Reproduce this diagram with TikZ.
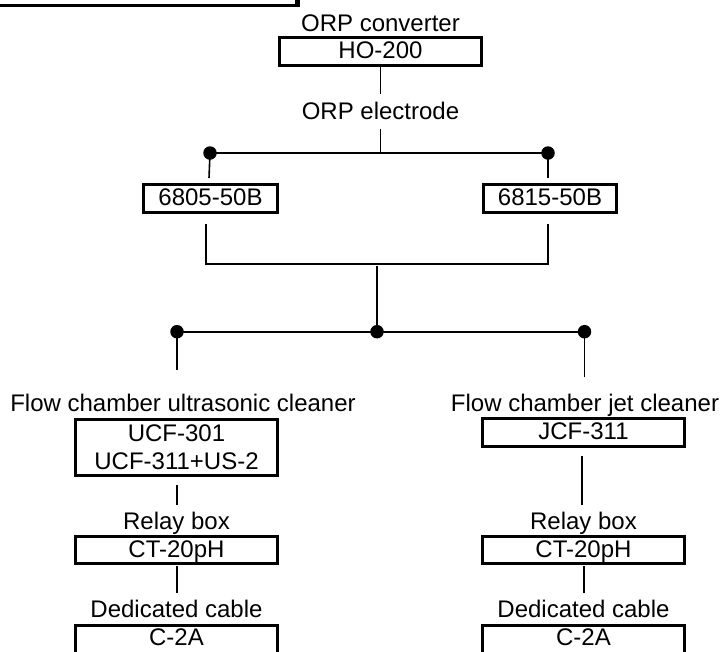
\documentclass[tikz,border=0pt]{standalone}
\usepackage{fontspec}
\setmainfont{Liberation Sans}
\begin{document}
\begin{tikzpicture}[x=1pt,y=-1pt,
  box/.style={draw, line width=3pt, inner sep=0pt, font=\fontsize{24}{28}\selectfont, align=center},
  onebox/.style={box, text height=17pt, text depth=3pt},
  lbl/.style={anchor=base, inner sep=0pt, font=\fontsize{24}{28}\selectfont},
  wire/.style={line width=1.6pt},
  bus/.style={line width=2pt},
  dotnode/.style={circle, fill=black, inner sep=0pt, minimum size=13.5pt}]
\useasboundingbox (0,0) rectangle (723,651);
% partial framed box at top left (shadowed)
\fill[black] (-20,-20) rectangle (300,7.3);
\draw[fill=white, line width=0.8pt] (-20,-20) rectangle (295.5,4);
% top
\node[lbl] (lconv) at (380.5,31) {ORP converter};
\node[onebox, minimum width=202pt, minimum height=28pt] (ho) at (380.5,51.5) {HO-200};
\node[lbl] (lelec) at (380.5,119) {ORP electrode};
\coordinate (e1) at (380.5,94);
\coordinate (e2) at (380.5,129);
\coordinate (j1) at (380.5,153);
\draw[wire] (ho.south) -- (e1);
\draw[wire] (e2) -- (j1);
% electrodes
\node[dotnode] (d1) at (210,153) {};
\node[dotnode] (d2) at (548,153) {};
\draw[bus] (d1.center) -- (d2.center);
\node[onebox, minimum width=134.6pt, minimum height=28.3pt] (b1) at (210.5,198.4) {6805-50B};
\node[onebox, minimum width=133.6pt, minimum height=28.3pt] (b2) at (550,198.4) {6815-50B};
\coordinate (t1) at (209,178);
\coordinate (t2) at (548,178);
\draw[wire] (d1.center) -- (t1);
\draw[wire] (d2.center) -- (t2);
\coordinate (u1) at (206,224);
\coordinate (v1) at (206,264);
\coordinate (u2) at (547.7,224);
\coordinate (v2) at (547.7,264);
\draw[wire] (u1) -- (v1) -- (v2) -- (u2);
\coordinate (w1) at (377,266);
% lower bus
\node[dotnode] (d3) at (177,331.7) {};
\node[dotnode] (d4) at (377,331.7) {};
\node[dotnode] (d5) at (584.5,331.7) {};
\draw[bus] (w1) -- (d4.center);
\draw[bus] (d3.center) -- (d5.center);
\coordinate (s1) at (177,370);
\coordinate (s2) at (584.5,377);
\draw[wire] (d3.center) -- (s1);
\draw[wire] (d5.center) -- (s2);
% left column
\node[lbl] (lucf) at (183,411) {Flow chamber ultrasonic cleaner};
\node[box, minimum width=202pt, minimum height=56pt] (ucf) at (176.5,447.5) {UCF-301\\UCF-311+US-2};
\coordinate (p1) at (177,485);
\coordinate (q1) at (177,505);
\draw[wire] (p1) -- (q1);
\node[lbl] (lrel1) at (176.5,529.5) {Relay box};
\node[onebox, minimum width=202pt, minimum height=27pt] (ct1) at (176.5,550) {CT-20pH};
\coordinate (r1) at (177,566);
\coordinate (r1b) at (177,593);
\draw[wire] (r1) -- (r1b);
\node[lbl] (lcab1) at (176.5,617.3) {Dedicated cable};
\node[onebox, text depth=6pt, minimum width=202pt, minimum height=28pt] (c1) at (176.5,639.5) {C-2A};
% right column
\node[lbl] (ljcf) at (585,411) {Flow chamber jet cleaner};
\node[onebox, minimum width=202pt, minimum height=28pt] (jcf) at (583.5,432.5) {JCF-311};
\coordinate (p2) at (582,456);
\coordinate (q2) at (582,505);
\draw[wire] (p2) -- (q2);
\node[lbl] (lrel2) at (583.5,529.5) {Relay box};
\node[onebox, minimum width=202pt, minimum height=27pt] (ct2) at (583.5,550) {CT-20pH};
\coordinate (r2) at (583.7,566);
\coordinate (r2b) at (583.7,593);
\draw[wire] (r2) -- (r2b);
\node[lbl] (lcab2) at (583.5,617.3) {Dedicated cable};
\node[onebox, text depth=6pt, minimum width=202pt, minimum height=28pt] (c2) at (583.5,639.5) {C-2A};
\end{tikzpicture}
\end{document}
